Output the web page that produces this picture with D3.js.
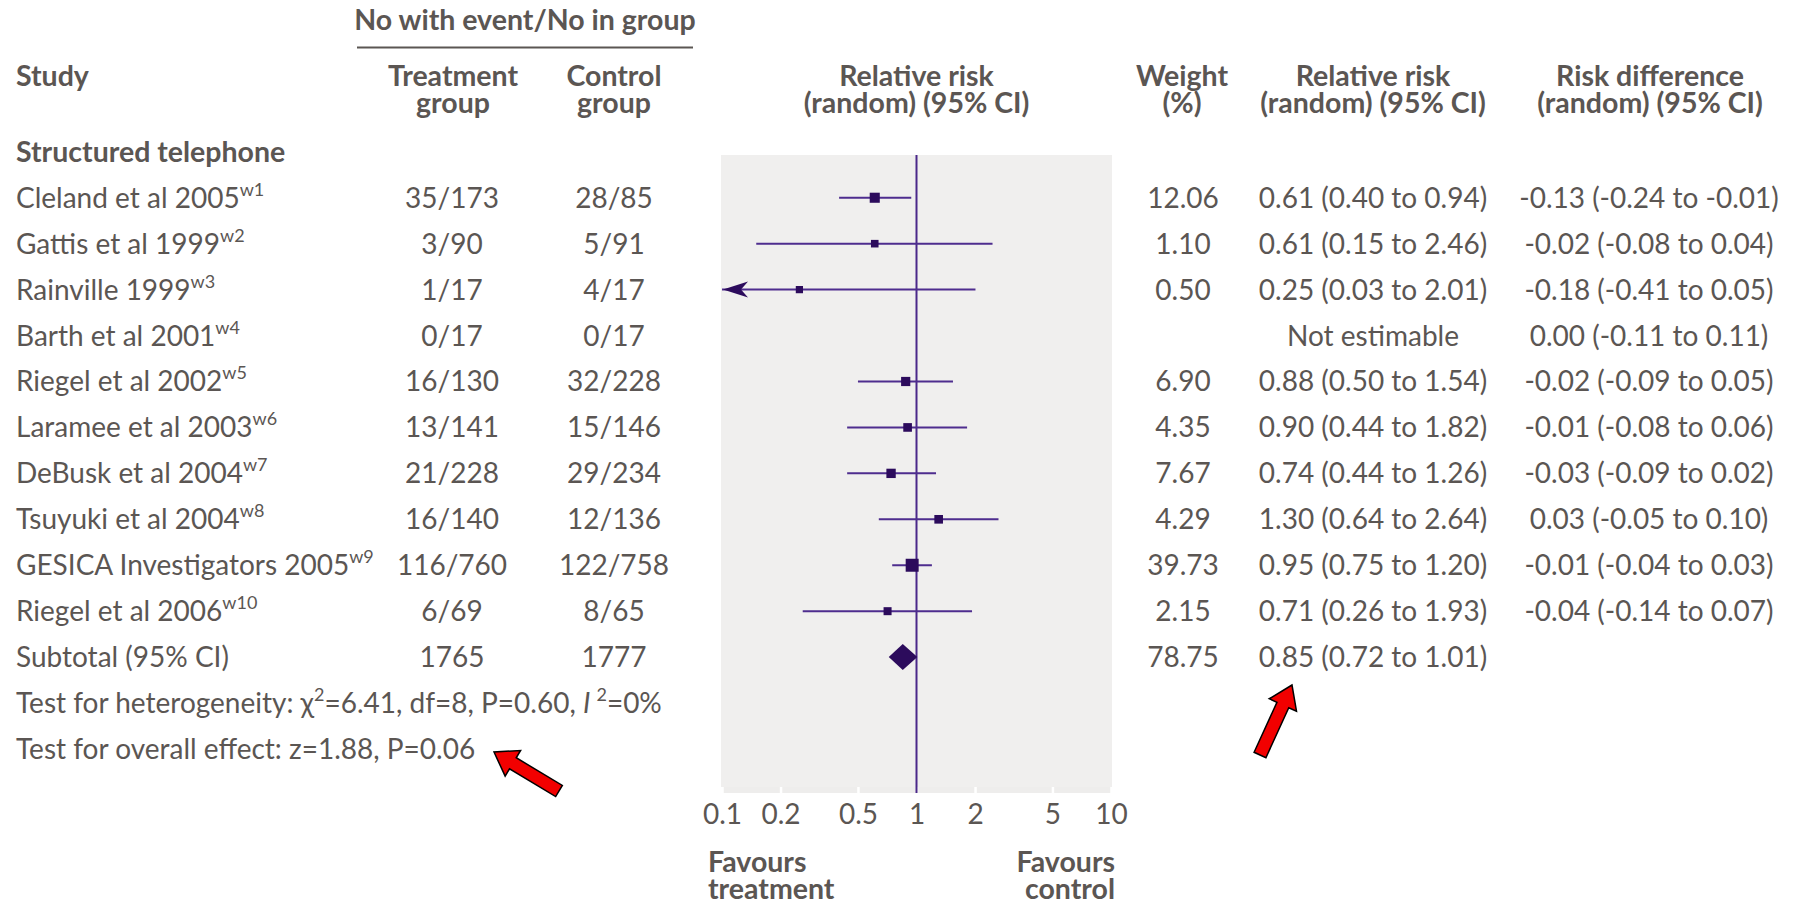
<!DOCTYPE html>
<html><head><meta charset="utf-8">
<script src="https://cdn.jsdelivr.net/npm/d3@7"></script>
<style>
  body { margin: 0; background: #fff; }
  svg text { font-family: Lato, "Open Sans", sans-serif; fill: #5b5653; }
  .hd { font-weight: 700; font-size: 28.5px; }
  .tx { font-weight: 400; font-size: 28px; }
</style>
</head><body>
<svg id="chart" width="1794" height="905"></svg>
<script>
// ---- Data: structured telephone support trials ----
const studies = ["Cleland et al 2005", "Gattis et al 1999", "Rainville 1999", "Barth et al 2001",
  "Riegel et al 2002", "Laramee et al 2003", "DeBusk et al 2004", "Tsuyuki et al 2004",
  "GESICA Investigators 2005", "Riegel et al 2006"];
const refs = ["w1", "w2", "w3", "w4", "w5", "w6", "w7", "w8", "w9", "w10"];
const treatEvents = [35, 3, 1, 0, 16, 13, 21, 16, 116, 6];
const treatTotal  = [173, 90, 17, 17, 130, 141, 228, 140, 760, 69];
const ctrlEvents  = [28, 5, 4, 0, 32, 15, 29, 12, 122, 8];
const ctrlTotal   = [85, 91, 17, 17, 228, 146, 234, 136, 758, 65];
const weights = [12.06, 1.10, 0.50, null, 6.90, 4.35, 7.67, 4.29, 39.73, 2.15];
const rr      = [0.61, 0.61, 0.25, null, 0.88, 0.90, 0.74, 1.30, 0.95, 0.71];
const rrLow   = [0.40, 0.15, 0.03, null, 0.50, 0.44, 0.44, 0.64, 0.75, 0.26];
const rrHigh  = [0.94, 2.46, 2.01, null, 1.54, 1.82, 1.26, 2.64, 1.20, 1.93];
const rd      = [-0.13, -0.02, -0.18, 0.00, -0.02, -0.01, -0.03, 0.03, -0.01, -0.04];
const rdLow   = [-0.24, -0.08, -0.41, -0.11, -0.09, -0.08, -0.09, -0.05, -0.04, -0.14];
const rdHigh  = [-0.01, 0.04, 0.05, 0.11, 0.05, 0.06, 0.02, 0.10, 0.03, 0.07];

// Pooled (subtotal) result
const subtotalTreat = 1765;
const subtotalCtrl = 1777;
const subtotalWeight = 78.75;
const subtotalRR = [0.85, 0.72, 1.01]; // estimate, lower, upper

const tickValues = [0.1, 0.2, 0.5, 1, 2, 5, 10];

// ---- Layout ----
const svg = d3.select("#chart");

const rowKeys = ["heading", ...studies, "subtotal", "het", "overall"];
const y = d3.scalePoint().domain(rowKeys).range([151.8, 749]);
const base = 10; // text baseline offset from row centre

const x = d3.scaleLog().domain([0.1, 10]).range([722, 1111]);
const panelTop = 155, panelBottom = 787;

const col = { study: 16, treat: 452, ctrl: 614, weight: 1183, rr: 1373, rd: 1649 };
const f2 = d3.format(".2f");
const fmtNum = v => (v < 0 ? "-" : "") + f2(Math.abs(v));
const ci = (e, l, h) => `${fmtNum(e)} (${fmtNum(l)} to ${fmtNum(h)})`;

const purpleLine = "#4e2d8e";
const purpleMark = "#2c0b5c";

// Multi-line text block: one <text> with a tspan per line
function block(g, cls, xPos, yPos, lines, anchor, lead) {
  const t = g.append("text").attr("class", cls).attr("x", xPos).attr("y", yPos)
    .attr("text-anchor", anchor);
  lines.forEach((l, i) => t.append("tspan").attr("x", xPos).attr("dy", i ? lead : 0).text(l));
  return t;
}

// ---- Column headers ----
const hdr = svg.append("g");
hdr.append("text").attr("class", "hd").attr("x", (357 + 693) / 2).attr("y", 30)
  .attr("text-anchor", "middle").text("No with event/No in group");
hdr.append("line").attr("x1", 357).attr("x2", 693).attr("y1", 47.5).attr("y2", 47.5)
  .attr("stroke", "#5b5653").attr("stroke-width", 2);

const headCols = [
  { x: col.study, a: "start", l: ["Study"] },
  { x: 453, a: "middle", l: ["Treatment", "group"] },
  { x: col.ctrl, a: "middle", l: ["Control", "group"] },
  { x: x(1), a: "middle", l: ["Relative risk", "(random) (95% CI)"] },
  { x: 1182, a: "middle", l: ["Weight", "(%)"] },
  { x: col.rr, a: "middle", l: ["Relative risk", "(random) (95% CI)"] },
  { x: 1650, a: "middle", l: ["Risk difference", "(random) (95% CI)"] }
];
headCols.forEach(h => block(hdr, "hd", h.x, 86, h.l, h.a, 27));

hdr.append("text").attr("class", "hd").attr("x", col.study).attr("y", y("heading") + base)
  .text("Structured telephone");

// ---- Plot panel ----
const plot = svg.append("g");
plot.append("rect").attr("x", x.range()[0] - 1).attr("y", panelTop)
  .attr("width", x.range()[1] - x.range()[0] + 2).attr("height", panelBottom - panelTop)
  .attr("fill", "#f0efee");

// Axis: pale band with white notches at each tick
const axis = d3.axisBottom(x).tickValues(tickValues).tickFormat(d => String(d))
  .tickSize(6).tickSizeOuter(0).tickPadding(11);
const axG = plot.append("g").attr("transform", `translate(0,${panelBottom})`).call(axis);
axG.select(".domain").remove();
axG.insert("rect", ":first-child").attr("x", x.range()[0]).attr("y", 0)
  .attr("width", x.range()[1] - x.range()[0]).attr("height", 6).attr("fill", "#eeedec");
axG.selectAll(".tick line").attr("stroke", "#ffffff").attr("stroke-width", 2.5);
axG.selectAll(".tick text").attr("class", "tx").style("font-size", "28px")
  .style("font-family", "Lato, sans-serif").attr("fill", "#5b5653");

// Line of no effect
plot.append("line").attr("x1", x(1)).attr("x2", x(1)).attr("y1", panelTop).attr("y2", panelBottom + 6)
  .attr("stroke", "#4a2889").attr("stroke-width", 2);

// Study estimates
const size = d3.scaleSqrt().domain([0, 40]).range([6.5, 13]);
const lo = x.domain()[0];
studies.forEach((s, i) => {
  if (rr[i] == null) return;
  const yy = y(s);
  const left = Math.max(rrLow[i], lo);
  plot.append("line").attr("x1", x(left)).attr("x2", x(rrHigh[i]))
    .attr("y1", yy).attr("y2", yy).attr("stroke", purpleLine).attr("stroke-width", 2);
  if (rrLow[i] < lo) {
    // Interval runs beyond the scale: arrowhead at the left edge
    const tip = x(lo) + 1;
    plot.append("path")
      .attr("d", `M${tip},${yy} L${tip + 25},${yy - 8} L${tip + 18},${yy} L${tip + 25},${yy + 8} Z`)
      .attr("fill", purpleMark);
  }
  const s2 = size(weights[i]);
  plot.append("rect").attr("x", x(rr[i]) - s2 / 2).attr("y", yy - s2 / 2)
    .attr("width", s2).attr("height", s2).attr("fill", purpleMark);
});

// Pooled diamond
{
  const yy = y("subtotal"), h = 13;
  const [e, l, u] = subtotalRR;
  plot.append("path")
    .attr("d", `M${x(l)},${yy} L${x(e)},${yy - h} L${x(u)},${yy} L${x(e)},${yy + h} Z`)
    .attr("fill", purpleMark);
}

// Favours labels
const fav = svg.append("g");
block(fav, "hd", 708, 872, ["Favours", "treatment"], "start", 27);
block(fav, "hd", 1115, 872, ["Favours", "control"], "end", 27);

// ---- Table text ----
const tbl = svg.append("g");
studies.forEach((s, i) => {
  const yy = y(s) + base;
  const t = tbl.append("text").attr("class", "tx").attr("x", col.study).attr("y", yy);
  t.append("tspan").text(s);
  t.append("tspan").attr("dy", -12).style("font-size", "18px").text(refs[i]);
  tbl.append("text").attr("class", "tx").attr("x", col.treat).attr("y", yy)
    .attr("text-anchor", "middle").text(`${treatEvents[i]}/${treatTotal[i]}`);
  tbl.append("text").attr("class", "tx").attr("x", col.ctrl).attr("y", yy)
    .attr("text-anchor", "middle").text(`${ctrlEvents[i]}/${ctrlTotal[i]}`);
  if (weights[i] != null) {
    tbl.append("text").attr("class", "tx").attr("x", col.weight).attr("y", yy)
      .attr("text-anchor", "middle").text(f2(weights[i]));
    tbl.append("text").attr("class", "tx").attr("x", col.rr).attr("y", yy)
      .attr("text-anchor", "middle").text(ci(rr[i], rrLow[i], rrHigh[i]));
  } else {
    tbl.append("text").attr("class", "tx").attr("x", col.rr).attr("y", yy)
      .attr("text-anchor", "middle").text("Not estimable");
  }
  tbl.append("text").attr("class", "tx").attr("x", col.rd).attr("y", yy)
    .attr("text-anchor", "middle").text(ci(rd[i], rdLow[i], rdHigh[i]));
});

{
  const yy = y("subtotal") + base;
  tbl.append("text").attr("class", "tx").attr("x", col.study).attr("y", yy).text("Subtotal (95% CI)");
  tbl.append("text").attr("class", "tx").attr("x", col.treat).attr("y", yy)
    .attr("text-anchor", "middle").text(subtotalTreat);
  tbl.append("text").attr("class", "tx").attr("x", col.ctrl).attr("y", yy)
    .attr("text-anchor", "middle").text(subtotalCtrl);
  tbl.append("text").attr("class", "tx").attr("x", col.weight).attr("y", yy)
    .attr("text-anchor", "middle").text(f2(subtotalWeight));
  tbl.append("text").attr("class", "tx").attr("x", col.rr).attr("y", yy)
    .attr("text-anchor", "middle").text(ci(...subtotalRR));
}

{
  const t = tbl.append("text").attr("class", "tx").attr("x", col.study).attr("y", y("het") + base);
  t.append("tspan").text("Test for heterogeneity: \u03C7");
  t.append("tspan").attr("dy", -12).style("font-size", "18px").text("2");
  t.append("tspan").attr("dy", 12).text("=6.41, df=8, P=0.60, ");
  t.append("tspan").style("font-style", "italic").text("I");
  t.append("tspan").attr("dy", -12).attr("dx", 6).style("font-size", "18px").text("2");
  t.append("tspan").attr("dy", 12).text("=0%");
  tbl.append("text").attr("class", "tx").attr("x", col.study).attr("y", y("overall") + base)
    .text("Test for overall effect: z=1.88, P=0.06");
}

// ---- Callout arrows ----
function arrow(tip, tail, headLen = 22, headW = 30, shaftW = 13) {
  const dx = tail[0] - tip[0], dy = tail[1] - tip[1];
  const L = Math.hypot(dx, dy), ux = dx / L, uy = dy / L, px = -uy, py = ux;
  const pt = (a, b) => [tip[0] + ux * a + px * b, tip[1] + uy * a + py * b];
  const pts = [pt(0, 0), pt(headLen, headW / 2), pt(headLen, shaftW / 2), pt(L, shaftW / 2),
               pt(L, -shaftW / 2), pt(headLen, -shaftW / 2), pt(headLen, -headW / 2)];
  return "M" + pts.map(p => p.join(",")).join("L") + "Z";
}
svg.append("path").attr("d", arrow([494, 752], [559, 791]))
  .attr("fill", "#f20000").attr("stroke", "#000").attr("stroke-width", 1.5).attr("stroke-linejoin", "miter");
svg.append("path").attr("d", arrow([1292, 685], [1260, 755]))
  .attr("fill", "#f20000").attr("stroke", "#000").attr("stroke-width", 1.5).attr("stroke-linejoin", "miter");
</script></body></html>
